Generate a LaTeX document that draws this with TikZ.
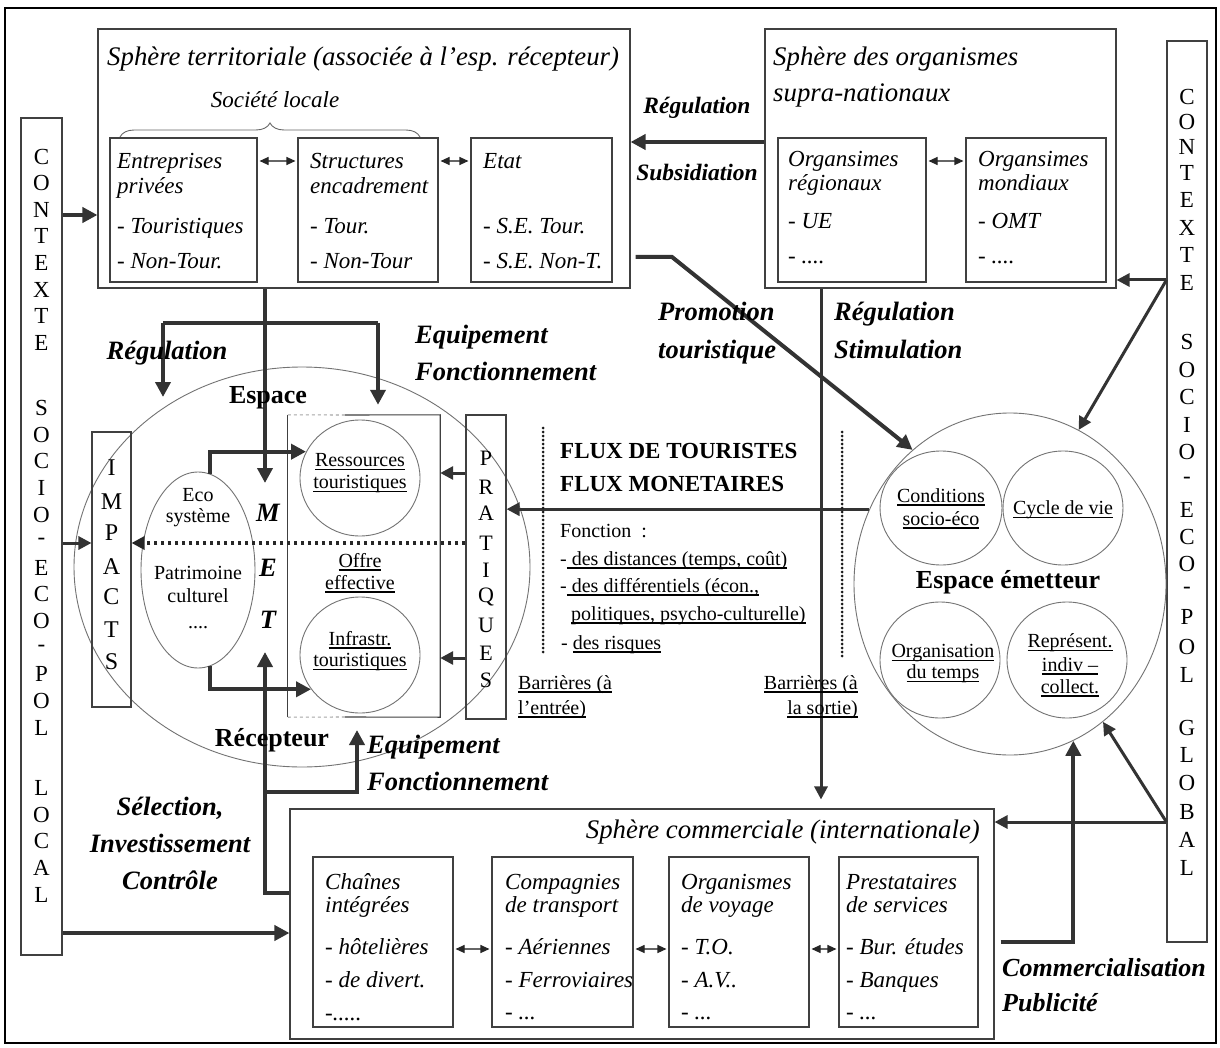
\documentclass[tikz,border=0pt]{standalone}
\usepackage{fontspec}
\setmainfont{Liberation Serif}
\usetikzlibrary{arrows.meta,decorations.pathreplacing,fit,shapes.geometric}
\newsavebox\ulbox
\newcommand\ul[1]{\sbox\ulbox{#1}\rlap{\rule[-3.5pt]{\wd\ulbox}{1.4pt}}\usebox\ulbox}
\begin{document}
\begin{tikzpicture}[x=1pt,y=-1pt,
  box/.style={draw=black!75,line width=1.1pt,inner sep=0pt},
  ring/.style={draw=black!55,line width=0.9pt,ellipse,inner sep=0pt},
  it/.style={font=\fontsize{23}{27}\selectfont\itshape,inner sep=0pt,anchor=base west},
  ttl/.style={font=\fontsize{26.8}{30}\selectfont\itshape,inner sep=0pt,anchor=base west},
  bis/.style={font=\fontsize{23.5}{27}\selectfont\bfseries\itshape,inner sep=0pt},
  bil/.style={font=\fontsize{26.5}{30}\selectfont\bfseries\itshape,inner sep=0pt},
  rg/.style={font=\fontsize{20}{23}\selectfont,inner sep=0pt},
  bd/.style={font=\fontsize{26}{30}\selectfont\bfseries,inner sep=0pt},
  letr/.style={font=\fontsize{23}{26}\selectfont,inner sep=0pt},
  thk/.style={draw=black!80,line width=4pt,-{Triangle[length=15pt,width=15pt]}},
  med/.style={draw=black!80,line width=3pt,-{Triangle[length=13pt,width=13pt]}},
  dbl/.style={draw=black!60,line width=1.1pt,{Triangle[length=9pt,width=8pt,color=black!85]}-{Triangle[length=9pt,width=8pt,color=black!85]},shorten <=2pt,shorten >=2pt},
  dotarr/.style={draw=black!85,line width=3.5pt,dash pattern=on 3.5pt off 3.5pt,-{Triangle[length=13pt,width=13pt]}},
  barr/.style={draw=black!90,line width=3pt,dash pattern=on 0pt off 4pt,line cap=round},
]
\useasboundingbox (0,0) rectangle (1220,1048);
\fill[white] (0,0) rectangle (1220,1048);
\node[draw=black,line width=2.4pt,inner sep=0pt,fit={(5,8)(1216,1043)}] (frame) {};

% ---------------- Sphere territoriale
\node[box,fit={(98,29)(630,288)}] (terr) {};
\node[ttl] (terrT) at (107,66) {Sphère territoriale (associée à l’esp. récepteur)};
\node[font=\fontsize{23}{27}\selectfont\itshape,inner sep=0pt] (soc) at (275,100) {Société locale};
\draw[black!60,line width=0.9pt,decorate,decoration={brace,amplitude=14pt}] (120,137) -- (420,137);
\node[box,fit={(110,138)(257,282)}] (ent) {};
\node[it] (ent1) at (117,169) {Entreprises};
\node[it] (ent2) at (117,194) {privées};
\node[it] (ent3) at (117,234) {- Touristiques};
\node[it] (ent4) at (117,269) {- Non-Tour.};
\node[box,fit={(298,138)(438,282)}] (str) {};
\node[it] (str1) at (310,169) {Structures};
\node[it] (str2) at (310,194) {encadrement};
\node[it] (str3) at (310,234) {- Tour.};
\node[it] (str4) at (310,269) {- Non-Tour};
\node[box,fit={(471,138)(612,282)}] (etat) {};
\node[it] (etat1) at (483,169) {Etat};
\node[it] (etat2) at (483,234) {- S.E. Tour.};
\node[it] (etat3) at (483,269) {- S.E. Non-T.};
\draw[dbl] (ent.east |- 0,161) -- (str.west |- 0,161);
\draw[dbl] (str.east |- 0,161) -- (etat.west |- 0,161);

% ---------------- Sphere supra-nationale
\node[box,fit={(765,29)(1116,288)}] (supra) {};
\node[ttl] (supT1) at (773,66) {Sphère des organismes};
\node[ttl] (supT2) at (773,102) {supra-nationaux};
\node[box,fit={(778,138)(926,282)}] (oreg) {};
\node[it] (oreg1) at (788,167) {Organsimes};
\node[it] (oreg2) at (788,191) {régionaux};
\node[it] (oreg3) at (788,229) {- UE};
\node[it] (oreg4) at (788,264) {- ....};
\node[box,fit={(966,138)(1106,282)}] (omon) {};
\node[it] (omon1) at (978,167) {Organsimes};
\node[it] (omon2) at (978,191) {mondiaux};
\node[it] (omon3) at (978,229) {- OMT};
\node[it] (omon4) at (978,264) {- ....};
\draw[dbl] (oreg.east |- 0,161) -- (omon.west |- 0,161);

\node[bis] (regT) at (697,108) {Régulation};
\node[bis] (subT) at (697,172) {Subsidiation};
\draw[thk] (supra.west |- 0,142) -- (terr.east |- 0,142);

% ---------------- Contextes
\node[box,fit={(21,118)(62,955)}] (lctx) {};
\foreach \yy/\cc [count=\i] in {157/C,183/O,210/N,236/T,263/E,290/X,316/T,343/E,
  408/S,435/O,461/C,488/I,515/O,541/-,568/E,594/C,621/O,648/-,674/P,701/O,728/L,
  788/L,815/O,841/C,868/A,895/L}
  \node[letr] (lc\i) at (41.5,\yy) {\cc};
\node[box,fit={(1167,41)(1207,942)}] (rctx) {};
\foreach \yy/\cc [count=\i] in {97/C,122/O,147/N,173/T,200/E,228/X,255/T,283/E,
  342/S,370/O,397/C,425/I,452/O,480/-,510/E,537/C,564/O,590/-,617/P,647/O,675/L,
  728/G,755/L,783/O,812/B,840/A,868/L}
  \node[letr] (rc\i) at (1187,\yy) {\cc};

% ---------------- Espace recepteur
\node[ring,minimum width=456pt,minimum height=400pt] (recep) at (302,567) {};
\node[ring,minimum width=114pt,minimum height=196pt] (eco) at (198,570) {};
\node[inner sep=0pt,fit={(288,415)(440,717)}] (offre) {};
\draw[black!75,line width=1.1pt] (345,415) -- (offre.north east) -- (offre.south east) -- (345,717);
\draw[black!75,line width=1.1pt] (offre.north west) -- (offre.south west);
\draw[black!35,line width=1.1pt,dashed] (offre.north west) -- (345,415);
\draw[black!35,line width=1.1pt,dashed] (offre.south west) -- (345,717);
\node[ring,minimum width=120pt,minimum height=116pt] (ress) at (360,478) {};
\node[ring,minimum width=120pt,minimum height=116pt] (infra) at (360,655) {};
\node[box,fit={(92,432)(131,707)}] (imp) {};
\foreach \yy/\cc [count=\i] in {468/I,502/M,533/P,567/A,597/C,630/T,662/S}
  \node[font=\fontsize{24}{28}\selectfont,inner sep=0pt] (im\i) at (111.5,\yy) {\cc};
\node[box,fit={(466,415)(506,719)}] (prat) {};
\foreach \yy/\cc [count=\i] in {458/P,487/R,513/A,543/T,570/I,597/Q,625/U,653/E,680/S}
  \node[font=\fontsize{22}{26}\selectfont,inner sep=0pt] (pr\i) at (486,\yy) {\cc};

% ---------------- Espace emetteur
\node[ring,minimum width=312pt,minimum height=342pt] (emet) at (1010,584) {};
\node[ring,minimum width=122pt,minimum height=114pt] (cond) at (941,508) {};
\node[ring,minimum width=120pt,minimum height=114pt] (cycle) at (1063,508) {};
\node[ring,minimum width=120pt,minimum height=116pt] (orgt) at (940,660) {};
\node[ring,minimum width=120pt,minimum height=116pt] (repr) at (1067,660) {};

% ---------------- Sphere commerciale
\node[box,fit={(290,809)(994,1039)}] (comm) {};
\node[ttl,anchor=base east] (commT) at (980,838) {Sphère commerciale (internationale)};
\node[box,fit={(313,857)(453,1027)}] (chain) {};
\node[it] (chain1) at (325,889) {Chaînes};
\node[it] (chain2) at (325,912) {intégrées};
\node[it] (chain3) at (325,954) {- hôtelières};
\node[it] (chain4) at (325,987) {- de divert.};
\node[it] (chain5) at (325,1020) {-.....};
\node[box,fit={(492,857)(633,1027)}] (comp) {};
\node[it] (comp1) at (505,889) {Compagnies};
\node[it] (comp2) at (505,912) {de transport};
\node[it] (comp3) at (505,954) {- Aériennes};
\node[it] (comp4) at (505,987) {- Ferroviaires};
\node[it] (comp5) at (505,1019) {- ...};
\node[box,fit={(669,857)(809,1027)}] (voy) {};
\node[it] (voy1) at (681,889) {Organismes};
\node[it] (voy2) at (681,912) {de voyage};
\node[it] (voy3) at (681,954) {- T.O.};
\node[it] (voy4) at (681,987) {- A.V..};
\node[it] (voy5) at (681,1019) {- ...};
\node[box,fit={(839,857)(978,1027)}] (prest) {};
\node[it] (prest1) at (846,889) {Prestataires};
\node[it] (prest2) at (846,912) {de services};
\node[it] (prest3) at (846,954) {- Bur. études};
\node[it] (prest4) at (846,987) {- Banques};
\node[it] (prest5) at (846,1019) {- ...};
\draw[dbl] (chain.east |- 0,949) -- (comp.west |- 0,949);
\draw[dbl] (comp.east |- 0,949) -- (voy.west |- 0,949);
\draw[dbl] (voy.east |- 0,949) -- (prest.west |- 0,949);

% ---------------- Connectors
\draw[thk] (lctx.east |- 0,215) -- (terr.west |- 0,215);
\draw[med] (lctx.east |- 0,543) -- (imp.west |- 0,543);
\draw[thk] (lctx.east |- 0,933) -- (comm.west |- 0,933);

\coordinate (rcA) at (rctx.west |- 0,280);
\draw[med] (rcA) -- (supra.east |- rcA);
\draw[med] (rcA) -- (emet.66);
\coordinate (rcB) at (rctx.west |- 0,822);
\draw[med] (rcB) -- (comm.east |- rcB);
\draw[med] (rcB) -- (emet.-56);
\draw[thk] ([xshift=6pt]comm.east |- 0,942) -| (emet.-68);

% top trunk
\coordinate (jL) at (163,323);
\coordinate (jR) at (378,323);
\coordinate (mtop) at (265,483);
\coordinate (regEnd) at (163,397);
\draw[thk] (265,0 |- terr.south) -- (mtop);
\draw[thk,-] (jL) -- (jR);
\draw[thk] (jL) -- (regEnd);
\draw[thk,shorten >=10pt] (jR) -- (offre.north -| jR);
\draw[thk] (eco.83) |- (ress.154);
\draw[thk] (eco.277) |- (infra.215);

% bottom trunk
\coordinate (jB) at (265,893);
\coordinate (jB2) at (265,792);
\coordinate (mbot) at (265,652);
\coordinate (eqEnd) at (357,730);
\draw[thk] (comm.west |- jB) -- (jB) -- (mbot);
\draw[thk] (jB2) -| (eqEnd);

% pratiques
\draw[med] (prat.west |- 0,473) -- (offre.east |- 0,473);
\draw[med] (prat.west |- 0,658) -- (offre.east |- 0,658);
\draw[dotarr] (prat.west |- 0,543) -- (imp.east |- 0,543);

% flux
\draw[med] (emet.152) -- (prat.east |- emet.152);
\draw[barr] (543,428) -- (543,655);
\draw[barr] (842,432) -- (842,657);

% supra vertical and promotion
\draw[med,shorten >=9pt] (supra.south -| 821,0) -- (comm.north -| 821,0);
\coordinate (promA) at ([xshift=5pt]terr.east |- 0,257);
\coordinate (promB) at (672,257);
\draw[thk] (promA) -- (promB) -- (emet.126);

% ---------------- Texts
\node[bd] (espT) at (268,398) {Espace};
\node[bd] (recT) at (272,740) {Récepteur};
\node[rg] (eco1) at (198,495) {Eco};
\node[rg] (eco2) at (198,518) {système};
\node[rg] (eco3) at (198,573) {Patrimoine};
\node[rg] (eco4) at (198,596) {culturel};
\node[rg] (eco5) at (198,628) {....};
\node[bil] (mM) at (268,513) {M};
\node[bil] (mE) at (268,568) {E};
\node[bil] (mT) at (268,620) {T};
\node[rg] (ress1) at (360,462) {\ul{Ressources}};
\node[rg] (ress2) at (360,484) {\ul{touristiques}};
\node[rg] (off1) at (360,562) {\ul{Offre}};
\node[rg] (off2) at (360,584) {\ul{effective}};
\node[rg] (inf1) at (360,640) {\ul{Infrastr.}};
\node[rg] (inf2) at (360,662) {\ul{touristiques}};

\node[bil] (regL) at (167,353) {Régulation};
\node[bil,anchor=base west] (eq1) at (415,343) {Equipement};
\node[bil,anchor=base west] (eq2) at (415,380) {Fonctionnement};
\node[bil,anchor=base west] (eq3) at (367,753) {Equipement};
\node[bil,anchor=base west] (eq4) at (367,790) {Fonctionnement};
\node[bil] (sel1) at (170,808) {Sélection,};
\node[bil] (sel2) at (170,843) {Investissement};
\node[bil] (sel3) at (170,880) {Contrôle};
\node[bil,anchor=base west] (pro1) at (658,321) {Promotion};
\node[bil,anchor=base west] (pro2) at (658,358) {touristique};
\node[bil,anchor=base west] (rs1) at (834,321) {Régulation};
\node[bil,anchor=base west] (rs2) at (834,359) {Stimulation};
\node[font=\fontsize{26}{30}\selectfont\bfseries\itshape,inner sep=0pt,anchor=base west] (cp1) at (1002,976) {Commercialisation};
\node[font=\fontsize{26}{30}\selectfont\bfseries\itshape,inner sep=0pt,anchor=base west] (cp2) at (1002,1011) {Publicité};

\node[font=\fontsize{23}{27}\selectfont\bfseries,inner sep=0pt,anchor=base west] (flux1) at (560,458) {FLUX DE TOURISTES};
\node[font=\fontsize{23}{27}\selectfont\bfseries,inner sep=0pt,anchor=base west] (flux2) at (560,491) {FLUX MONETAIRES};
\node[rg,anchor=base west] (fn0) at (560,537) {Fonction~~:};
\node[rg,anchor=base west] (fn1) at (560,565) {-\ul{ des distances (temps, coût)}};
\node[rg,anchor=base west] (fn2) at (560,592) {-\ul{ des différentiels (écon.,}};
\node[rg,anchor=base west] (fn3) at (571,620) {\ul{politiques, psycho-culturelle)}};
\node[rg,anchor=base west] (fn4) at (561,649) {- \ul{des risques}};
\node[rg,anchor=base west] (bar1) at (518,689) {\ul{Barrières (à}};
\node[rg,anchor=base west] (bar2) at (518,714) {\ul{l’entrée)}};
\node[rg,anchor=base east] (bar3) at (858,689) {\ul{Barrières (à}};
\node[rg,anchor=base east] (bar4) at (858,714) {\ul{la sortie)}};

\node[font=\fontsize{26}{30}\selectfont\bfseries,inner sep=0pt] (emT) at (1008,582) {Espace émetteur};
\node[rg] (cond1) at (941,497) {\ul{Conditions}};
\node[rg] (cond2) at (941,520) {\ul{socio-éco}};
\node[rg] (cyc1) at (1063,510) {\ul{Cycle de vie}};
\node[rg] (org1) at (943,653) {\ul{Organisation}};
\node[rg] (org2) at (943,674) {\ul{du temps}};
\node[rg] (rep1) at (1070,643) {\ul{Représent.}};
\node[rg] (rep2) at (1070,666) {\ul{indiv –}};
\node[rg] (rep3) at (1070,688) {\ul{collect.}};
\end{tikzpicture}
\end{document}
